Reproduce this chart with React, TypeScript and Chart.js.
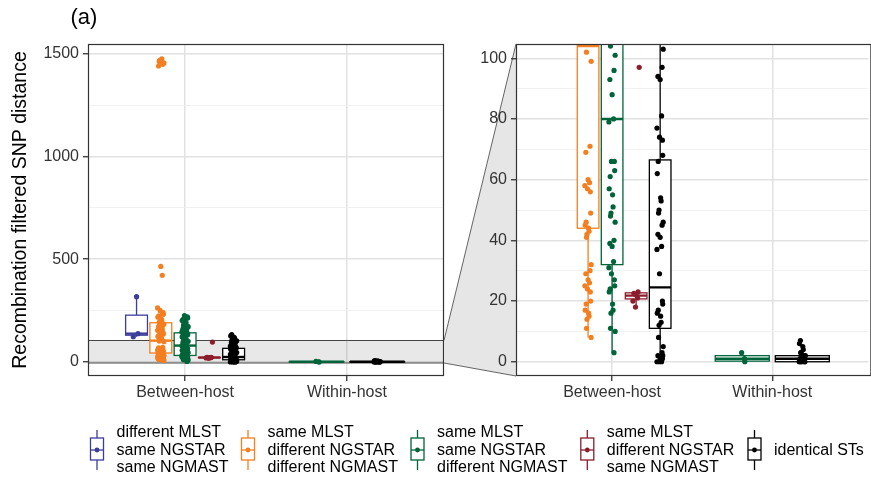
import React, { useEffect, useRef } from 'react';
import { Chart, registerables } from 'chart.js';

Chart.register(...registerables);

const FONT = '"Liberation Sans", Arial, sans-serif';
Chart.defaults.font.family = FONT;

// ---------- data ----------
const CATEGORIES = ['Between-host', 'Within-host'];

const GROUP_LABELS = [
  ['different MLST', 'same NGSTAR', 'same NGMAST'],
  ['same MLST', 'different NGSTAR', 'different NGMAST'],
  ['same MLST', 'same NGSTAR', 'different NGMAST'],
  ['same MLST', 'different NGSTAR', 'same NGMAST'],
  ['identical STs'],
];
const GROUP_COLORS = ['#3c3c9a', '#f47f20', '#00643a', '#8b1d2c', '#000000'];

// points per group: [Between-host, Within-host]
const purpleBetween = [318, 138, 123];
const purpleWithin: number[] = [];
const orangeBetween = [
  1475, 1468, 1462, 1455, 1448, 1440, 465, 422, 263, 250, 240, 232, 225, 218, 210, 203, 197,
  191, 185, 178, 172, 166, 160, 154, 148, 142, 136, 130, 124, 118, 112, 108, 102, 99, 71, 69,
  60, 59, 58, 57, 56, 49, 46, 45, 44, 43, 42, 41, 32, 30, 29, 27, 26, 25, 24, 23, 20, 19, 17,
  16, 15, 14, 11, 8,
];
const orangeWithin: number[] = [];
const greenBetween = [
  226, 220, 214, 208, 202, 196, 190, 184, 178, 172, 166, 160, 155, 150, 146, 142, 138, 133,
  128, 122, 118, 112, 108, 104, 101, 96, 93, 88, 80, 79, 66, 66, 63, 61, 57, 55, 51, 49, 48,
  46, 40, 39, 38, 33, 31, 29, 27, 25, 24, 23, 19, 17, 16, 11, 10, 3,
];
const greenWithin = [3, 1, 0];
const redBetween = [97, 23, 22.5, 22, 21, 20, 18];
const redWithin: number[] = [];
const blackBetween = [
  133, 127, 120, 115, 110, 106, 103, 97, 94, 93, 81, 77, 74, 73, 68, 66, 62, 54, 53, 50, 49,
  46, 45, 42, 41, 38, 37, 29, 20, 19, 17, 16, 15, 13, 12, 8, 5, 3, 2, 1, 0, 0, 0, 1, 2,
];
const blackWithin = [7, 6, 5, 4, 3, 3, 2, 2, 1, 1, 1, 0, 0, 0, 0, 0];

const POINTS = [
  [purpleBetween, purpleWithin],
  [orangeBetween, orangeWithin],
  [greenBetween, greenWithin],
  [redBetween, redWithin],
  [blackBetween, blackWithin],
];

// box statistics per group: [Between-host, Within-host]
const BOX_LOW = [[123, null], [8, null], [3, 0], [18, null], [0, 0]];
const BOX_Q1 = [[130.5, null], [44, null], [32, 0.2], [20.7, null], [11, 0]];
const BOX_MED = [[138, null], [104, null], [80, 1], [21.8, null], [24.5, 1]];
const BOX_Q3 = [[228, null], [191, null], [142, 2], [22.7, null], [66.5, 2]];
const BOX_HIGH = [[318, null], [263, null], [226, 3], [23, null], [133, 5]];

const LEFT_Y_RANGE = [-68, 1547];
const LEFT_Y_MAJOR = [0, 500, 1000, 1500];
const LEFT_Y_MINOR = [250, 750, 1250];
const ZOOM_Y_RANGE = [-4.7, 104.7];
const RIGHT_Y_MAJOR = [0, 20, 40, 60, 80, 100];
const RIGHT_Y_MINOR = [10, 30, 50, 70, 90];
const X_RANGE = [0.4, 2.6];

const Y_TITLE = 'Recombination filtered SNP distance';
const PANEL_TAG = '(a)';

// jitter pattern (fraction of jitter half-width)
const JITTER = [0, 0.6, -0.5, 0.3, -0.9, 0.8, -0.2, 0.45, -0.7, 0.95, -0.35, 0.15, -0.6, 0.7, -1];
const JITTER_WIDTH = 0.02;
const DODGE_WIDTH = 0.75;

// ---------- helpers ----------
function dodge(g: number, c: number) {
  const present = POINTS.map((p, i) => (p[c].length ? i : -1)).filter((i) => i >= 0);
  const n = present.length;
  const k = present.indexOf(g);
  const slot = DODGE_WIDTH / n;
  return { offset: -DODGE_WIDTH / 2 + slot * (k + 0.5), width: slot * 0.9 };
}

function buildDatasets() {
  return POINTS.map((cats, g) => ({
    label: GROUP_LABELS[g].join(' '),
    data: cats.flatMap((vals, c) => {
      const { offset } = dodge(g, c);
      return vals.map((v, i) => ({
        x: c + 1 + offset + JITTER[(i * 7 + g * 3) % JITTER.length] * JITTER_WIDTH,
        y: v,
      }));
    }),
    pointRadius: 2.6,
    pointHoverRadius: 2.6,
    pointBackgroundColor: GROUP_COLORS[g],
    pointBorderWidth: 0,
    showLine: false,
    clip: 0,
  }));
}

function drawBoxes(chart: any) {
  const { ctx, chartArea: a, scales } = chart;
  const xs = scales.x;
  const ys = scales.y;
  ctx.save();
  ctx.beginPath();
  ctx.rect(a.left, a.top, a.right - a.left, a.bottom - a.top);
  ctx.clip();
  for (let g = 0; g < POINTS.length; g++) {
    for (let c = 0; c < CATEGORIES.length; c++) {
      const med = BOX_MED[g][c];
      if (med == null) continue;
      const { offset, width } = dodge(g, c);
      const cx = xs.getPixelForValue(c + 1 + offset);
      const x0 = xs.getPixelForValue(c + 1 + offset - width / 2);
      const x1 = xs.getPixelForValue(c + 1 + offset + width / 2);
      const yLow = ys.getPixelForValue(BOX_LOW[g][c] as number);
      const yQ1 = ys.getPixelForValue(BOX_Q1[g][c] as number);
      const yMed = ys.getPixelForValue(med);
      const yQ3 = ys.getPixelForValue(BOX_Q3[g][c] as number);
      const yHigh = ys.getPixelForValue(BOX_HIGH[g][c] as number);
      ctx.strokeStyle = GROUP_COLORS[g];
      ctx.lineWidth = 1.3;
      ctx.beginPath();
      ctx.moveTo(cx, yLow);
      ctx.lineTo(cx, yQ1);
      ctx.moveTo(cx, yQ3);
      ctx.lineTo(cx, yHigh);
      ctx.stroke();
      ctx.fillStyle = '#ffffff';
      ctx.fillRect(x0, yQ3, x1 - x0, yQ1 - yQ3);
      ctx.strokeRect(x0, yQ3, x1 - x0, yQ1 - yQ3);
      ctx.lineWidth = 2.4;
      ctx.beginPath();
      ctx.moveTo(x0, yMed);
      ctx.lineTo(x1, yMed);
      ctx.stroke();
    }
  }
  ctx.restore();
}

function makeScales(yRange: number[], major: number[], minor: number[], yWidth: number, withTitle: boolean) {
  const all = [...major, ...minor].sort((p, q) => p - q);
  return {
    x: {
      type: 'linear',
      min: X_RANGE[0],
      max: X_RANGE[1],
      bounds: 'data',
      afterBuildTicks: (s: any) => {
        s.ticks = CATEGORIES.map((_, i) => ({ value: i + 1 }));
      },
      afterFit: (s: any) => {
        s.height = 44;
      },
      ticks: {
        callback: (v: any) => CATEGORIES[Math.round(v) - 1] ?? '',
        font: { size: 16 },
        color: '#333333',
        padding: 2,
        maxRotation: 0,
        autoSkip: false,
      },
      grid: {
        color: '#e2e2e2',
        lineWidth: 1.5,
        tickLength: 5,
        tickColor: '#333333',
        tickWidth: 1.3,
      },
      border: { display: false },
    },
    y: {
      type: 'linear',
      min: yRange[0],
      max: yRange[1],
      bounds: 'data',
      afterBuildTicks: (s: any) => {
        s.ticks = all.map((v) => ({ value: v }));
      },
      afterFit: (s: any) => {
        s.width = yWidth;
      },
      ticks: {
        callback: (v: any) => (major.includes(v) ? String(v) : ''),
        font: { size: 16 },
        color: '#333333',
        padding: 4,
        autoSkip: false,
      },
      grid: {
        color: (ctx: any) => (major.includes(ctx.tick.value) ? '#e2e2e2' : '#eeeeee'),
        lineWidth: (ctx: any) => (major.includes(ctx.tick.value) ? 1.5 : 0.8),
        tickLength: 5,
        tickColor: (ctx: any) => (major.includes(ctx.tick.value) ? '#333333' : 'rgba(0,0,0,0)'),
        tickWidth: 1.3,
      },
      border: { display: false },
      title: {
        display: withTitle,
        text: Y_TITLE,
        color: '#000000',
        font: { size: 19.5 },
        padding: { top: 9, bottom: 0 },
      },
    },
  };
}

function drawBorder(chart: any) {
  const { ctx, chartArea: a } = chart;
  ctx.save();
  ctx.strokeStyle = '#333333';
  ctx.lineWidth = 1.2;
  ctx.strokeRect(a.left + 0.5, a.top + 0.5, a.right - a.left - 1, a.bottom - a.top - 1);
  ctx.restore();
}

function drawLegend(ctx: CanvasRenderingContext2D) {
  const textX = [116.5, 267.5, 437, 606.8, 774];
  const lineY3 = [433, 450.5, 467.5];
  ctx.save();
  ctx.font = `16px ${FONT}`;
  ctx.textBaseline = 'middle';
  ctx.textAlign = 'left';
  GROUP_LABELS.forEach((lines, g) => {
    const cx = textX[g] - 19.5;
    const col = GROUP_COLORS[g];
    ctx.strokeStyle = col;
    ctx.lineWidth = 1.3;
    ctx.beginPath();
    ctx.moveTo(cx, 430);
    ctx.lineTo(cx, 470);
    ctx.stroke();
    ctx.fillStyle = '#ffffff';
    ctx.fillRect(cx - 6.5, 438, 13, 22);
    ctx.strokeRect(cx - 6.5, 438, 13, 22);
    ctx.beginPath();
    ctx.moveTo(cx - 6.5, 450);
    ctx.lineTo(cx + 6.5, 450);
    ctx.stroke();
    ctx.fillStyle = col;
    ctx.beginPath();
    ctx.arc(cx, 450, 2.4, 0, Math.PI * 2);
    ctx.fill();
    ctx.fillStyle = '#000000';
    if (lines.length === 1) {
      ctx.fillText(lines[0], textX[g], 450.5);
    } else {
      lines.forEach((t, i) => ctx.fillText(t, textX[g], lineY3[i]));
    }
  });
  ctx.restore();
}

export default function App() {
  const leftRef = useRef<HTMLCanvasElement>(null);
  const rightRef = useRef<HTMLCanvasElement>(null);

  useEffect(() => {
    const left = new Chart(leftRef.current as HTMLCanvasElement, {
      type: 'scatter',
      data: { datasets: buildDatasets() as any },
      options: {
        responsive: false,
        animation: false,
        devicePixelRatio: 1,
        events: [],
        layout: { padding: { left: 0, top: 44, right: 427, bottom: 65 } },
        plugins: { legend: { display: false }, tooltip: { enabled: false } },
        scales: makeScales(LEFT_Y_RANGE, LEFT_Y_MAJOR, LEFT_Y_MINOR, 88, true) as any,
      },
      plugins: [
        {
          id: 'leftPanel',
          beforeDatasetsDraw(chart: any) {
            const { ctx, chartArea: a, scales } = chart;
            const yTop = scales.y.getPixelForValue(ZOOM_Y_RANGE[1]);
            const yBot = scales.y.getPixelForValue(ZOOM_Y_RANGE[0]);
            ctx.save();
            ctx.fillStyle = 'rgba(0,0,0,0.09)';
            ctx.fillRect(a.left, yTop, a.right - a.left, yBot - yTop);
            ctx.strokeStyle = '#444444';
            ctx.lineWidth = 1;
            ctx.beginPath();
            ctx.moveTo(a.left, yTop);
            ctx.lineTo(a.right, yTop);
            ctx.moveTo(a.left, yBot);
            ctx.lineTo(a.right, yBot);
            ctx.stroke();
            ctx.restore();
            drawBoxes(chart);
          },
          afterDraw(chart: any) {
            drawBorder(chart);
            const ctx = chart.ctx;
            ctx.save();
            ctx.font = `22px ${FONT}`;
            ctx.fillStyle = '#000000';
            ctx.textBaseline = 'alphabetic';
            ctx.fillText(PANEL_TAG, 70.5, 24);
            ctx.restore();
            drawLegend(ctx);
          },
        },
      ],
    });

    const right = new Chart(rightRef.current as HTMLCanvasElement, {
      type: 'scatter',
      data: { datasets: buildDatasets() as any },
      options: {
        responsive: false,
        animation: false,
        devicePixelRatio: 1,
        events: [],
        layout: { padding: { left: 444, top: 44, right: 0, bottom: 65 } },
        plugins: { legend: { display: false }, tooltip: { enabled: false } },
        scales: makeScales(ZOOM_Y_RANGE, RIGHT_Y_MAJOR, RIGHT_Y_MINOR, 72, false) as any,
      },
      plugins: [
        {
          id: 'zoomLink',
          beforeDraw(chart: any) {
            const { ctx, chartArea: a } = chart;
            const la = left.chartArea;
            const ly = left.scales.y;
            const lTop = ly.getPixelForValue(ZOOM_Y_RANGE[1]);
            const lBot = ly.getPixelForValue(ZOOM_Y_RANGE[0]);
            ctx.save();
            ctx.fillStyle = '#e6e6e6';
            ctx.beginPath();
            ctx.moveTo(la.right, lTop);
            ctx.lineTo(a.left, a.top);
            ctx.lineTo(a.left, a.bottom);
            ctx.lineTo(la.right, lBot);
            ctx.closePath();
            ctx.fill();
            ctx.strokeStyle = '#555555';
            ctx.lineWidth = 0.9;
            ctx.beginPath();
            ctx.moveTo(la.right, lTop);
            ctx.lineTo(a.left, a.top);
            ctx.moveTo(la.right, lBot);
            ctx.lineTo(a.left, a.bottom);
            ctx.stroke();
            ctx.restore();
          },
          beforeDatasetsDraw(chart: any) {
            drawBoxes(chart);
          },
          afterDraw(chart: any) {
            const { ctx, chartArea: a } = chart;
            ctx.save();
            ctx.strokeStyle = '#333333';
            ctx.lineWidth = 1.2;
            ctx.strokeRect(a.left + 0.5, a.top + 0.5, a.right - a.left + 2, a.bottom - a.top - 1);
            ctx.restore();
          },
        },
      ],
    });

    return () => {
      left.destroy();
      right.destroy();
    };
  }, []);

  const canvasStyle: React.CSSProperties = {
    position: 'absolute',
    left: 0,
    top: 0,
    width: 871,
    height: 485,
  };

  return (
    <div style={{ position: 'absolute', left: 0, top: 0, width: 871, height: 485, background: '#ffffff' }}>
      <canvas ref={leftRef} width={871} height={485} style={canvasStyle} />
      <canvas ref={rightRef} width={871} height={485} style={canvasStyle} />
    </div>
  );
}
